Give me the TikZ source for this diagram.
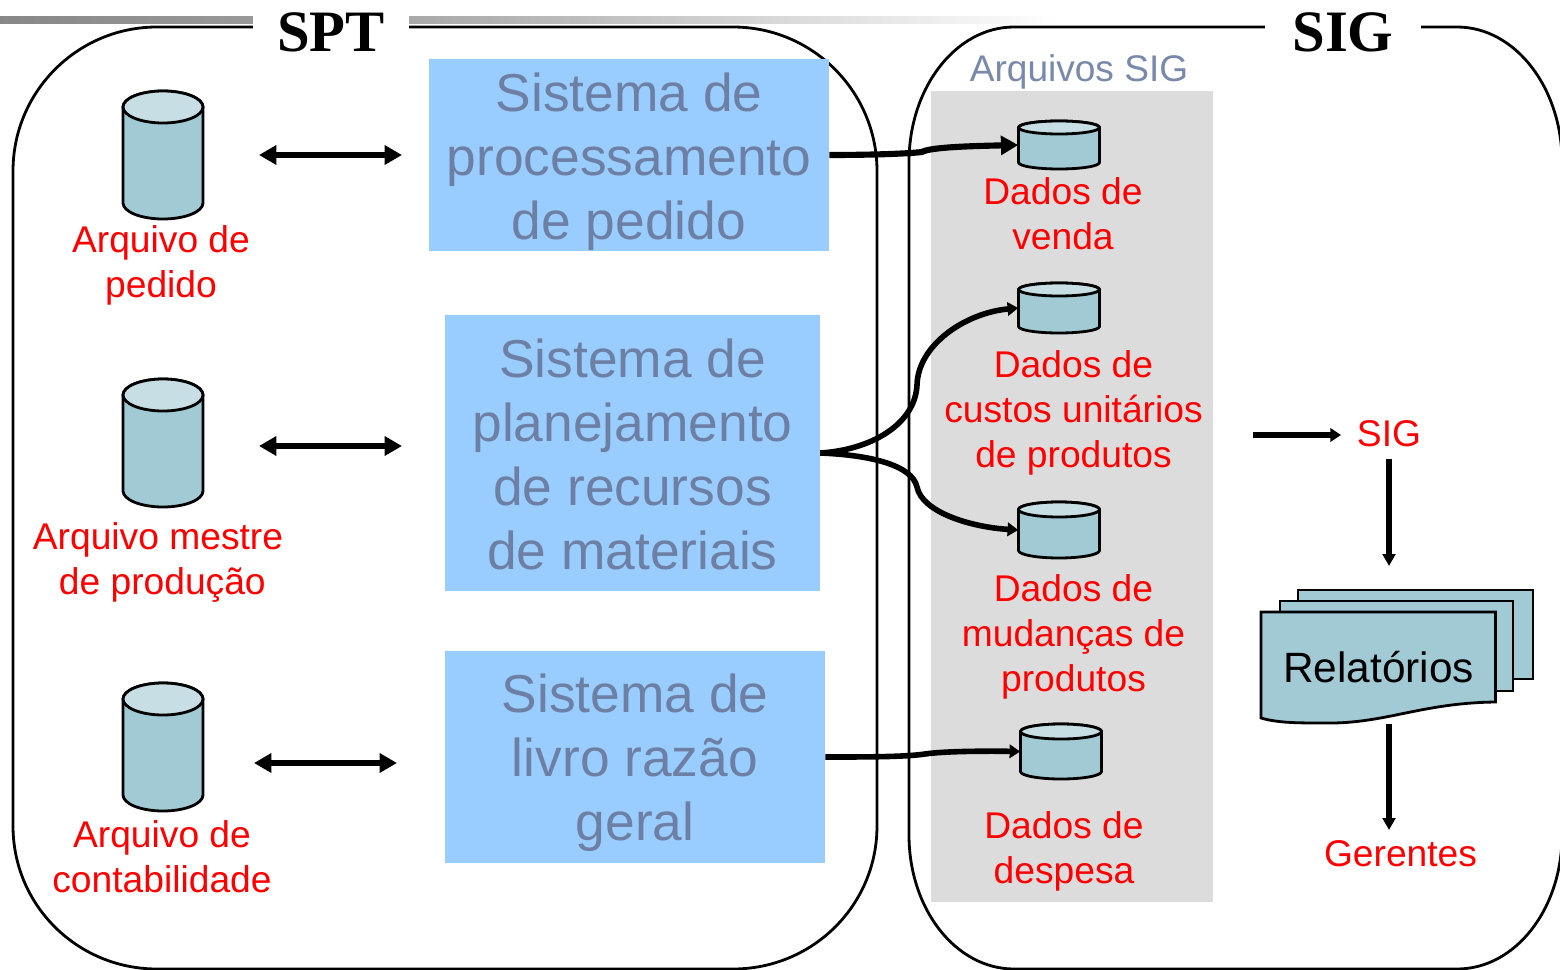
\documentclass[tikz,border=0pt]{standalone}
\usepackage{fontspec}
\setmainfont{Liberation Sans}
\newfontfamily\serifbold{Liberation Serif Bold}
\usetikzlibrary{arrows.meta}
\definecolor{boxblue}{HTML}{99CCFF}
\definecolor{boxtext}{HTML}{6D7FA3}
\definecolor{cylbody}{HTML}{A1CAD4}
\definecolor{cyltop}{HTML}{C6DEE4}
\definecolor{panelgray}{HTML}{DCDCDC}
\pgfdeclarehorizontalshading{barshade}{100bp}{
  color(0bp)=(black!47);
  color(25bp)=(black!47);
  color(37bp)=(black!40);
  color(48.6bp)=(black!30);
  color(62.7bp)=(black!14);
  color(75bp)=(white);
  color(100bp)=(white)}
\tikzset{
  panelline/.style={draw=black,line width=2.1pt},
  sysbox/.style={fill=boxblue,inner sep=0pt},
  systext/.style={inner sep=0pt,align=center,text=boxtext,
    font=\fontsize{40pt}{48pt}\selectfont},
  redlabel/.style={inner sep=0pt,align=center,text=red,
    font=\fontsize{27.9pt}{33.75pt}\selectfont},
  titlelabel/.style={inner sep=0pt,font=\serifbold\fontsize{44pt}{50pt}\selectfont},
  mask/.style={fill=white,draw=none},
  cylline/.style={draw=black,line width=2.1pt,line join=round},
  sheet/.style={draw=black,line width=2.1pt,fill=cylbody,line join=miter},
  bigtwo/.style={line width=5pt,{Triangle[length=13pt,width=14pt]}-{Triangle[length=13pt,width=14pt]}},
  bigone/.style={line width=4.6pt,-{Triangle[length=13pt,width=14pt]}},
  midone/.style={line width=4.2pt,-{Triangle[length=8pt,width=10pt]}},
  vertone/.style={line width=3.9pt,-{Triangle[length=9pt,width=9.5pt]}}
}
% name, left, top, width, height, ellipse y radius
\newcommand{\dbcyl}[6]{%
  \begin{scope}[shift={(#2,#3)}]
    \pgfmathsetmacro{\cylW}{#4}\pgfmathsetmacro{\cylH}{#5}\pgfmathsetmacro{\cylR}{#6}
    \pgfmathsetmacro{\cylKx}{0.552*\cylW/2}\pgfmathsetmacro{\cylKy}{0.552*\cylR}
    \pgfmathsetmacro{\cylM}{\cylW/2}\pgfmathsetmacro{\cylB}{\cylH-\cylR}
    \path[cylline,fill=cylbody] (0,\cylR) -- (0,\cylB)
      .. controls (0,\cylB+\cylKy) and (\cylM-\cylKx,\cylH) .. (\cylM,\cylH)
      .. controls (\cylM+\cylKx,\cylH) and (\cylW,\cylB+\cylKy) .. (\cylW,\cylB) -- (\cylW,\cylR)
      .. controls (\cylW,\cylR-\cylKy) and (\cylM+\cylKx,0) .. (\cylM,0)
      .. controls (\cylM-\cylKx,0) and (0,\cylR-\cylKy) .. (0,\cylR) -- cycle;
    \path[cylline,fill=cyltop] (0,\cylR)
      .. controls (0,\cylR-\cylKy) and (\cylM-\cylKx,0) .. (\cylM,0)
      .. controls (\cylM+\cylKx,0) and (\cylW,\cylR-\cylKy) .. (\cylW,\cylR)
      .. controls (\cylW,\cylR+\cylKy) and (\cylM+\cylKx,2*\cylR) .. (\cylM,2*\cylR)
      .. controls (\cylM-\cylKx,2*\cylR) and (0,\cylR+\cylKy) .. (0,\cylR) -- cycle;
    \node[inner sep=0pt,minimum width=\cylW*0.75pt,minimum height=\cylH*0.75pt] (#1) at (\cylM,\cylH/2) {};
  \end{scope}}
\begin{document}
\begin{tikzpicture}[x=0.75pt,y=-0.75pt]
\path[use as bounding box] (0,0) rectangle (1560,970);
\clip (0,0) rectangle (1560,970);
\fill[white] (0,0) rectangle (1560,970);
% gradient rule
\path[shading=barshade] (0,17) rectangle (1060,24);
% outer panels
\draw[panelline] (13,171) .. controls (13,91.5) and (77.5,27) .. (157,27) -- (733,27)
  .. controls (812.5,27) and (877,91.5) .. (877,171) -- (877,826)
  .. controls (877,905.5) and (812.5,969) .. (733,969) -- (157,969)
  .. controls (77.5,969) and (13,905.5) .. (13,826) -- cycle;
\draw[panelline] (909,162) .. controls (909,87.5) and (956,27) .. (1014,27) -- (1457,27)
  .. controls (1515,27) and (1562,87.5) .. (1562,162) -- (1562,835)
  .. controls (1562,909.5) and (1515,969) .. (1457,969) -- (1014,969)
  .. controls (956,969) and (909,909.5) .. (909,835) -- cycle;
% title masks and titles
\fill[mask] (253,0) rectangle (409,56);
\fill[mask] (1265,0) rectangle (1421,56);
\node[titlelabel] (spt) at (331,32) {SPT};
\node[titlelabel] (sig) at (1343,32) {SIG};
% gray panel
\fill[panelgray] (931,91) rectangle (1213,902);
\node[inner sep=0pt,text=boxtext!92!white,font=\fontsize{27.8pt}{33pt}\selectfont] (arqsig) at (1079,72) {Arquivos SIG};
% system boxes
\node[sysbox,minimum width=300pt,minimum height=144pt] (b1) at (629,155) {};
\node[sysbox,minimum width=281.25pt,minimum height=207pt] (b2) at (632.5,453) {};
\node[sysbox,minimum width=285pt,minimum height=159pt] (b3) at (635,757) {};
\node[systext] (t1) at (629,162) {Sistema de\\processamento\\de pedido};
\node[systext] (t2) at (632.5,454.5) {Sistema de\\planejamento\\de recursos\\de materiais};
\node[systext] (t3) at (635,763) {Sistema de\\livro razão\\geral};
% left cylinders
\dbcyl{a1}{123}{91}{80}{128}{16}
\dbcyl{a2}{123}{379}{80}{128}{16}
\dbcyl{a3}{123}{683}{80}{128}{16}
\node[redlabel] (la1) at (161,265) {Arquivo de\\pedido};
\node[redlabel] (la2) at (158,562) {Arquivo mestre\\\hspace*{6.5pt}de produção};
\node[redlabel] (la3) at (162,857) {Arquivo de\\contabilidade};
% right cylinders
\dbcyl{c1}{1018.5}{121}{81}{48}{6.5}
\dbcyl{c2}{1018.5}{283}{81}{50}{6.5}
\dbcyl{c3}{1018.5}{502}{81}{56}{7.5}
\dbcyl{c4}{1020.5}{724}{81}{55}{7.5}
\node[redlabel] (lc1) at (1063,214) {Dados de\\venda};
\node[redlabel] (lc2) at (1073.5,413) {Dados de\\custos unitários\\de produtos};
\node[redlabel] (lc3) at (1073.5,637) {Dados de\\mudanças de\\produtos};
\node[redlabel] (lc4) at (1064,851) {Dados de\\despesa};
% right column
\node[redlabel] (lsig) at (1389,434) {SIG};
\node[redlabel] (lger) at (1400.5,854) {Gerentes};
% report stack
\path[sheet] (1298,590) -- (1533,590) -- (1533,679) -- (1298,679) -- cycle;
\path[sheet] (1280,601) -- (1513,601) -- (1513,691) -- (1280,691) -- cycle;
\path[sheet] (1261,612) -- (1495.5,612) -- (1495.5,702)
  .. controls (1420,703) and (1385,724) .. (1325,723)
  .. controls (1298,723) and (1278,723) .. (1261,718) -- cycle;
\node[inner sep=0pt,font=\fontsize{31.8pt}{36pt}\selectfont] (rel) at (1378.5,667) {Relatórios};
% free ends
\coordinate (d1l) at (259,155); \coordinate (d1r) at (402,155);
\coordinate (d2l) at (259,446); \coordinate (d2r) at (402,446);
\coordinate (d3l) at (254,763); \coordinate (d3r) at (397,763);
\coordinate (s0) at (1253,435); \coordinate (s1) at (1341,435);
\coordinate (v1a) at (1389,459); \coordinate (v1b) at (1389,566);
\coordinate (v2a) at (1389,724); \coordinate (v2b) at (1389,830);
% connectors
\draw[bigtwo] (d1l) -- (d1r);
\draw[bigtwo] (d2l) -- (d2r);
\draw[bigtwo] (d3l) -- (d3r);
\draw[bigone] (b1.east) .. controls (865,155) and (905,154) .. (922,152)
  .. controls (930,147) and (975,146) .. (c1.west);
\draw[midone] (b2.east) .. controls (870,450) and (915,425) .. (917,385)
  .. controls (918,345) and (965,313) .. (c2.west);
\draw[midone] (b2.east) .. controls (870,455) and (912,465) .. (917,487)
  .. controls (922,512) and (970,527) .. (c3.west);
\draw[midone] (b3.east) .. controls (865,757) and (905,757) .. (925,754)
  .. controls (945,751) and (990,751) .. (c4.west);
\draw[midone] (s0) -- (s1);
\draw[vertone] (v1a) -- (v1b);
\draw[vertone] (v2a) -- (v2b);
\end{tikzpicture}
\end{document}
